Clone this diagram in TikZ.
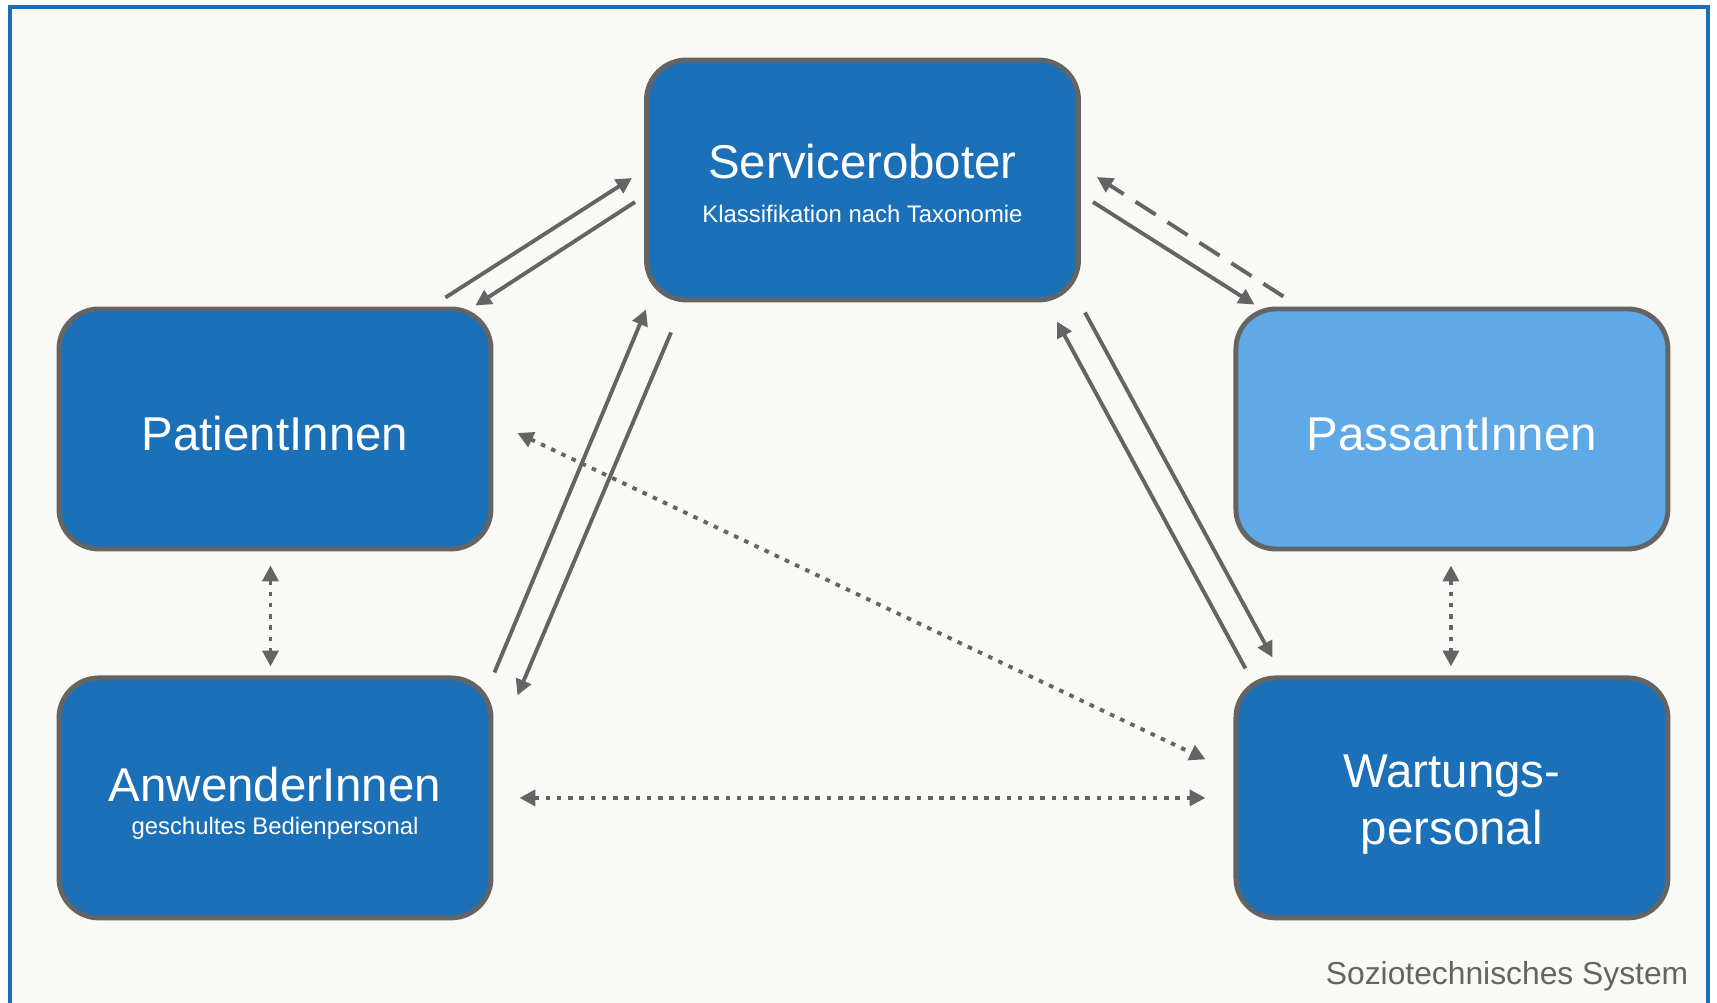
\documentclass[tikz,border=0pt]{standalone}
\usepackage{fontspec}
\setmainfont{Liberation Sans}
\usetikzlibrary{arrows.meta,calc,positioning}

\definecolor{boxblue}{RGB}{27,112,184}
\definecolor{lightblue}{RGB}{94,169,230}
\definecolor{linegray}{RGB}{100,100,100}
\definecolor{paper}{RGB}{249,250,246}
\definecolor{frameblue}{RGB}{27,110,184}

\tikzset{
    box/.style={draw=linegray, line width=1.4pt, fill=boxblue, rounded corners=0.4cm,
        minimum width=4.32cm, minimum height=2.40cm, text=white, align=center,
        font=\fontsize{13.5}{16.2}\selectfont},
    link/.style={draw=linegray, line width=1.1pt},
    dots/.style={dash pattern=on 1.3pt off 1.9pt},
    dashes/.style={dash pattern=on 6.8pt off 4pt}
}

\begin{document}
\begin{tikzpicture}[>={Triangle[length=4.5pt,width=4.5pt]}]
    \useasboundingbox (0,0) rectangle (17.17,-10.03);
    \draw[frameblue, fill=paper, line width=0.04cm] (0.10,-0.075) rectangle (17.08,-10.05);

    \node[box, text height=24pt]    (svc) at (8.625,-1.80) {Serviceroboter\\[-3.9pt]{\fontsize{6.8}{8}\selectfont Klassifikation nach Taxonomie}};
    \node[box, text height=12.6pt]  (pat) at (2.75,-4.29)  {PatientInnen};
    \node[box, text height=22.5pt, below = 1.24cm of pat] (anw) {AnwenderInnen\\[-6.8pt]{\fontsize{6.8}{8}\selectfont geschultes Bedienpersonal}};
    \node[box, text height=12.6pt, fill=lightblue, right = 7.40cm of pat] (pas) {PassantInnen};
    \node[box, text height=29.1pt, below = 1.24cm of pas] (wrt) {Wartungs-\\personal};

    \node[anchor=base east, inner sep=0pt, text=linegray, font=\fontsize{9.05}{11}\selectfont] (caption) at (16.89,-9.85) {Soziotechnisches System};

    \draw[link, ->] ($(pat.north east) + (-0.48,0.09)$) -- ($(svc.west) + (-0.12,0.02)$);
    \draw[link, ->] ($(svc.west) + (-0.09,-0.22)$) -- ($(pat.north east) + (-0.18,0.01)$);

    \draw[link, ->] ($(svc.east) + (0.12,-0.22)$) -- ($(pas.north west) + (0.21,0.02)$);
    \draw[link, ->, dashes] ($(pas.north west) + (0.50,0.10)$) -- ($(svc.east) + (0.16,0.03)$);

    \draw[link, ->] ($(anw.north east) + (0.01,0.03)$) -- ($(svc.south west) + (0.02,-0.07)$);
    \draw[link, ->] ($(svc.south west) + (0.27,-0.30)$) -- ($(anw.north east) + (0.24,-0.20)$);

    \draw[link, ->] ($(svc.south east) + (0.04,-0.10)$) -- ($(wrt.north west) + (0.39,0.18)$);
    \draw[link, ->] ($(wrt.north west) + (0.12,0.07)$) -- ($(svc.south east) + (-0.24,-0.19)$);

    \draw[link, <->, dots] ($(pat.east) + (0.24,-0.04)$) -- ($(wrt.west) + (-0.28,0.385)$);
    \draw[link, <->, dots] ($(anw.east) + (0.26,0)$) -- ($(wrt.west) + (-0.28,0)$);

    \draw[link, <->, dots] ($(pat.south) + (-0.045,-0.14)$) -- ($(anw.north) + (-0.045,0.09)$);
    \draw[link, <->, dots] ($(pas.south) + (-0.01,-0.14)$) -- ($(wrt.north) + (-0.01,0.09)$);

\end{tikzpicture}
\end{document}
